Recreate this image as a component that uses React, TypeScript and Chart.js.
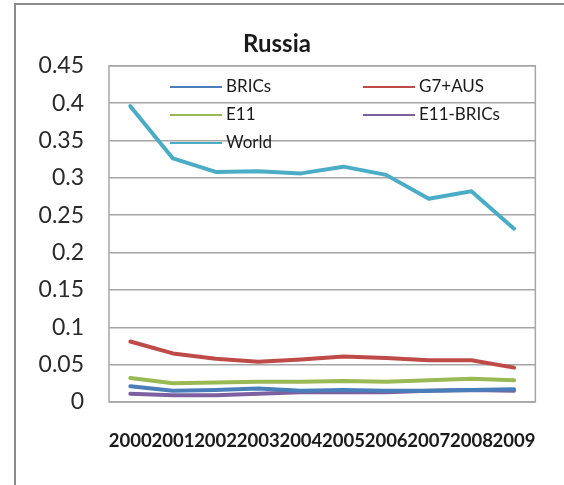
import React, { useEffect, useRef } from "react";
import { Chart, registerables } from "chart.js";

Chart.register(...registerables);

const years = ["2000", "2001", "2002", "2003", "2004", "2005", "2006", "2007", "2008", "2009"];
const brics = [0.021, 0.015, 0.016, 0.018, 0.015, 0.016, 0.015, 0.015, 0.016, 0.017];
const g7aus = [0.081, 0.065, 0.058, 0.054, 0.057, 0.061, 0.059, 0.056, 0.056, 0.046];
const e11 = [0.032, 0.025, 0.026, 0.027, 0.027, 0.028, 0.027, 0.029, 0.031, 0.029];
const e11Brics = [0.011, 0.009, 0.009, 0.011, 0.013, 0.013, 0.013, 0.015, 0.016, 0.015];
const world = [0.396, 0.326, 0.308, 0.309, 0.306, 0.315, 0.304, 0.272, 0.282, 0.232];
const seriesNames = ["BRICs", "G7+AUS", "E11", "E11-BRICs", "World"];
const seriesColors = ["#4a7ebb", "#be4b48", "#98b954", "#7d60a0", "#4bacc6"];

const FONT = "Lato, 'Open Sans', sans-serif";

const legendPlugin = {
  id: "inlineLegend",
  afterDraw(chart: any) {
    const ctx = chart.ctx;
    const ds = chart.data.datasets;
    const cols = [170, 363];
    const rows = [87, 115, 143];
    ctx.save();
    ctx.font = `17px ${FONT}`;
    ctx.textBaseline = "middle";
    ctx.textAlign = "left";
    ds.forEach((d: any, i: number) => {
      const x = cols[i % 2];
      const y = rows[Math.floor(i / 2)];
      ctx.strokeStyle = d.borderColor;
      ctx.lineWidth = 2;
      ctx.beginPath();
      ctx.moveTo(x, y);
      ctx.lineTo(x + 52, y);
      ctx.stroke();
      ctx.fillStyle = "#1a1a1a";
      ctx.fillText(d.label, x + 56, y);
    });
    ctx.restore();
  },
};

const framePlugin = {
  id: "frame",
  afterDraw(chart: any) {
    const { ctx, chartArea } = chart;
    ctx.save();
    ctx.strokeStyle = "#a6a6a6";
    ctx.lineWidth = 1.5;
    ctx.strokeRect(chartArea.left, chartArea.top, chartArea.right - chartArea.left, chartArea.bottom - chartArea.top);
    ctx.restore();
  },
};

export default function App() {
  const ref = useRef<HTMLCanvasElement>(null);
  useEffect(() => {
    const values = [brics, g7aus, e11, e11Brics, world];
    const chart = new Chart(ref.current as HTMLCanvasElement, {
      type: "line",
      data: {
        labels: years,
        datasets: values.map((v, i) => ({
          label: seriesNames[i],
          data: v,
          borderColor: seriesColors[i],
          backgroundColor: seriesColors[i],
          borderWidth: 4,
          pointRadius: 0,
          tension: 0,
          borderJoinStyle: "round" as const,
          borderCapStyle: "round" as const,
        })),
      },
      options: {
        animation: false,
        responsive: false,
        maintainAspectRatio: false,
        layout: { padding: { left: 0, right: 10, top: 0, bottom: 0 } },
        plugins: {
          legend: { display: false },
          tooltip: { enabled: false },
          title: {
            display: true,
            text: "Russia",
            color: "#1a1a1a",
            font: { family: FONT, size: 24, weight: "bold" },
            padding: { top: 30, bottom: 7 },
          },
        },
        scales: {
          x: {
            offset: true,
            grid: { display: false, drawTicks: false },
            border: { display: false },
            ticks: {
              autoSkip: false,
              maxRotation: 0,
              minRotation: 0,
              padding: 28,
              color: "#1a1a1a",
              font: { family: FONT, size: 18.5, weight: "bold" },
            },
            afterFit: (s: any) => {
              s.height = 83;
            },
          },
          y: {
            min: 0,
            max: 0.45,
            ticks: {
              stepSize: 0.05,
              padding: 25,
              color: "#2a2a2a",
              font: { family: FONT, size: 23 },
              callback: (v: any) => String(Number(Number(v).toFixed(2))),
            },
            grid: { color: "#a6a6a6", lineWidth: 1.5, drawTicks: false },
            border: { display: false },
            afterFit: (s: any) => {
              s.width = 109;
            },
          },
        },
      },
      plugins: [framePlugin, legendPlugin],
    });
    return () => chart.destroy();
  }, []);
  return (
    <div style={{ position: "absolute", left: 0, top: 0, width: 564, height: 485, overflow: "hidden", background: "#fff" }}>
      <div
        style={{
          position: "absolute",
          left: 14,
          top: 3,
          width: 700,
          height: 700,
          border: "2px solid #8c8c8c",
          boxSizing: "border-box",
        }}
      />
      <canvas ref={ref} width={564} height={485} style={{ position: "absolute", left: 0, top: 0 }} />
    </div>
  );
}
